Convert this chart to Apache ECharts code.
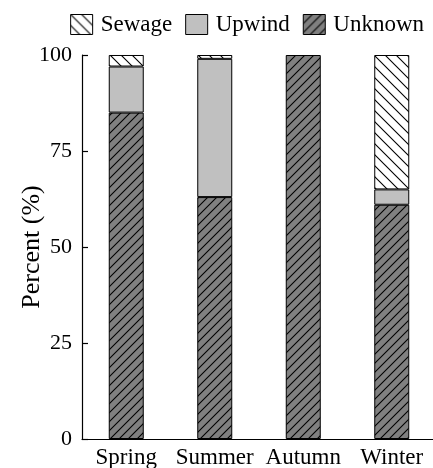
<!DOCTYPE html>
<html>
<head>
<meta charset="utf-8">
<script src="https://cdn.jsdelivr.net/npm/echarts@6/dist/echarts.min.js"></script>
<style>
html,body{margin:0;padding:0;background:#fff;}
#chart{width:433px;height:468px;}
</style>
</head>
<body>
<div id="chart"></div>
<script>
const categories = ['Spring', 'Summer', 'Autumn', 'Winter'];
const unknownValues = [85, 63, 100, 61];
const upwindValues = [12, 36, 0, 4];
const sewageValues = [3, 1, 0, 35];
const yTicks = [0, 25, 50, 75, 100];

function hatch(bg, size, dir) {
  const c = document.createElement('canvas');
  c.width = size; c.height = size;
  const ctx = c.getContext('2d');
  ctx.fillStyle = bg;
  ctx.fillRect(0, 0, size, size);
  ctx.strokeStyle = '#000';
  ctx.lineWidth = 1.1;
  ctx.beginPath();
  if (dir === '/') {
    ctx.moveTo(-1, size + 1); ctx.lineTo(size + 1, -1);
    ctx.moveTo(-1, 1); ctx.lineTo(1, -1);
    ctx.moveTo(size - 1, size + 1); ctx.lineTo(size + 1, size - 1);
  } else {
    ctx.moveTo(-1, -1); ctx.lineTo(size + 1, size + 1);
    ctx.moveTo(size - 1, -1); ctx.lineTo(size + 1, 1);
    ctx.moveTo(-1, size - 1); ctx.lineTo(1, size + 1);
  }
  ctx.stroke();
  return { image: c, repeat: 'repeat' };
}

// zero-height segments are not drawn (avoids stray border lines)
const nz = arr => arr.map(v => (v === 0 ? '-' : v));

const font = 'Liberation Serif';
const chart = echarts.init(document.getElementById('chart'), null, { renderer: 'canvas' });
const border = { borderColor: '#000', borderWidth: 1 };

chart.setOption({
  animation: false,
  backgroundColor: '#fff',
  legend: {
    data: ['Sewage', 'Upwind', 'Unknown'],
    right: 4,
    top: 8,
    itemWidth: 22,
    itemHeight: 20,
    itemGap: 13,
    icon: 'rect',
    itemStyle: { borderColor: '#000', borderWidth: 1 },
    textStyle: { fontFamily: font, fontSize: 23, color: '#000', padding: [0, 0, 0, 3] }
  },
  grid: { left: 82, top: 55, bottom: 29, width: 354, containLabel: false, outerBoundsMode: 'none' },
  xAxis: {
    type: 'category',
    data: categories,
    axisLine: { lineStyle: { color: '#000', width: 1.2 } },
    axisTick: { show: false },
    axisLabel: { fontFamily: font, fontSize: 23, color: '#000', margin: 7, interval: 0 }
  },
  yAxis: {
    type: 'value',
    min: yTicks[0],
    max: yTicks[yTicks.length - 1],
    interval: 25,
    name: 'Percent (%)',
    nameLocation: 'middle',
    nameGap: 37,
    nameMoveOverlap: false,
    nameTextStyle: { fontFamily: font, fontSize: 26, color: '#000' },
    axisLine: { show: true, lineStyle: { color: '#000', width: 1.2 } },
    axisTick: { show: true, inside: true, length: 6, lineStyle: { color: '#000', width: 1.2 } },
    splitLine: { show: false },
    axisLabel: { fontFamily: font, fontSize: 22, color: '#000', margin: 10 }
  },
  series: [
    {
      name: 'Unknown', type: 'bar', stack: 'total', barWidth: 35,
      data: nz(unknownValues),
      itemStyle: Object.assign({ color: hatch('#808080', 9, '/') }, border)
    },
    {
      name: 'Upwind', type: 'bar', stack: 'total', barWidth: 35,
      data: nz(upwindValues),
      itemStyle: Object.assign({ color: '#c0c0c0' }, border)
    },
    {
      name: 'Sewage', type: 'bar', stack: 'total', barWidth: 35,
      data: nz(sewageValues),
      itemStyle: Object.assign({ color: hatch('#ffffff', 11, '\\') }, border)
    }
  ]
});
</script>
</body>
</html>
